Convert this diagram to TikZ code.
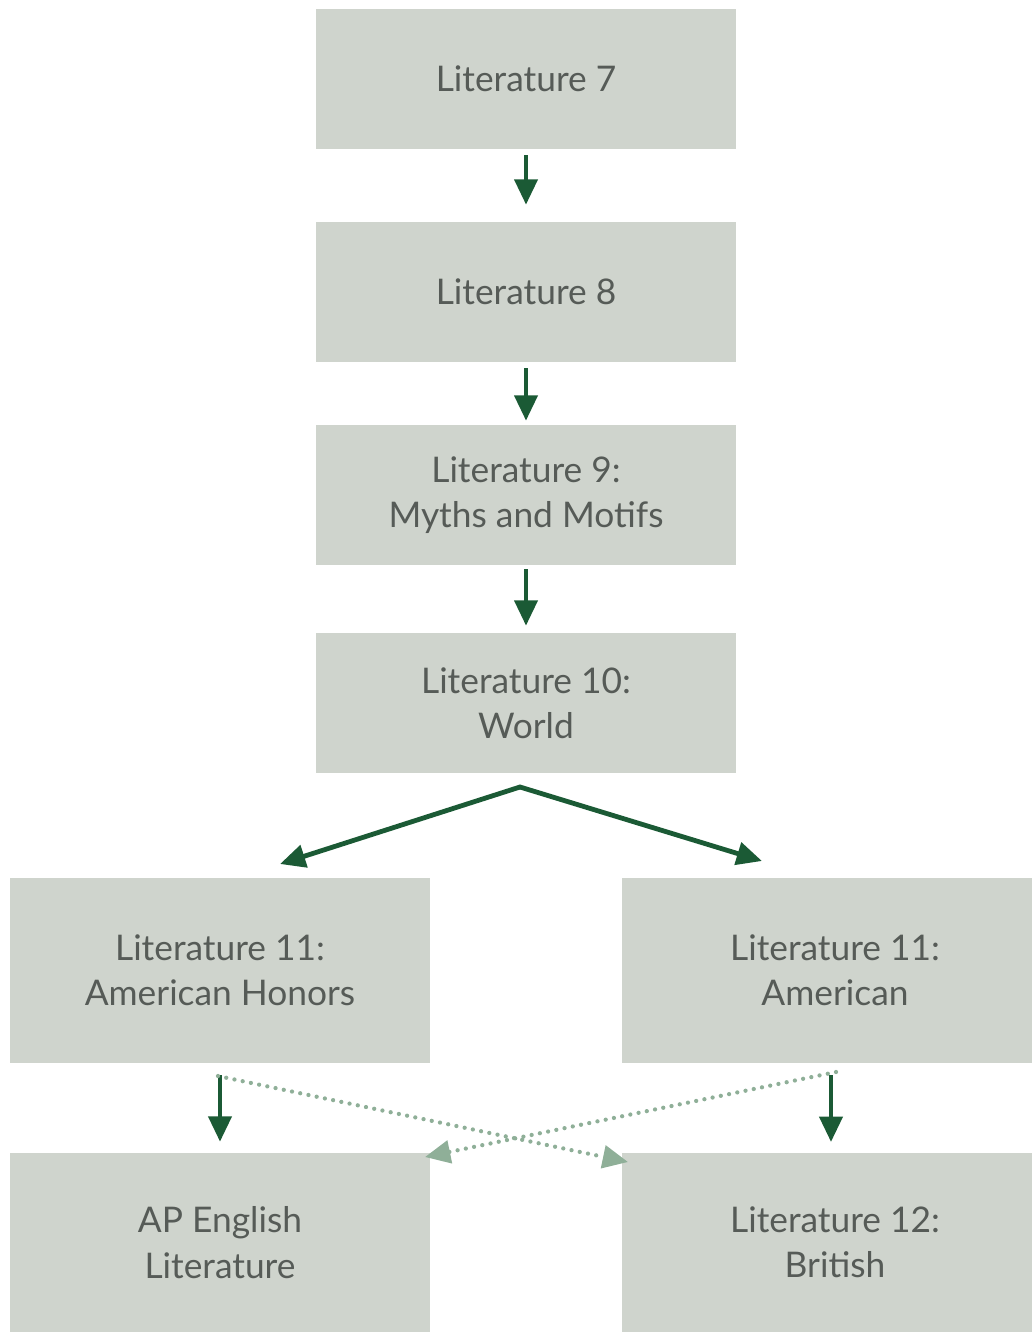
\documentclass[tikz,border=0pt]{standalone}
\usepackage{fontspec}
\setmainfont{Lato}
\usepackage{tikz}
\usetikzlibrary{arrows.meta,positioning}

\definecolor{boxgray}{HTML}{CFD4CD}
\definecolor{textgray}{HTML}{565B57}
\definecolor{darkgreen}{HTML}{1B5A35}
\definecolor{lightgreen}{HTML}{8FAF98}

\begin{document}
\begin{tikzpicture}[x=0.75pt, y=-0.75pt,
	course/.style={fill=boxgray, text=textgray, align=center, inner sep=0pt,
		font=\fontsize{26.5}{34}\selectfont},
	nextarrow/.style={draw=darkgreen, line width=3.6pt,
		-{Triangle[length=19pt, width=17pt]}},
	optarrow/.style={draw=lightgreen, line width=3.2pt, line cap=round,
		dash pattern=on 0pt off 6.3pt,
		-{Triangle[length=19pt, width=17pt, fill=lightgreen]}}]
	\useasboundingbox (0,0) rectangle (1032,1332);
	% course boxes
	\node[course, minimum width=315pt, minimum height=105pt] (lit7) at (526,79) {Literature 7};
	\node[course, minimum width=315pt, minimum height=105pt] (lit8) at (526,292) {Literature 8};
	\node[course, minimum width=315pt, minimum height=105pt] (lit9) at (526,495) {Literature 9:\\Myths and Motifs};
	\node[course, minimum width=315pt, minimum height=105pt] (lit10) at (526,703) {Literature 10:\\World};
	\node[course, minimum width=315pt, minimum height=138.75pt] (litAmH) at (220,970.5) {Literature 11:\\American Honors};
	\node[course, minimum width=319.5pt, minimum height=138.75pt] (litAm) at (835,970.5) {Literature 11:\\American};
	\node[course, minimum width=315pt, minimum height=134.25pt] (apEng) at (220,1242.5) {AP English\\Literature};
	\node[course, minimum width=319.5pt, minimum height=134.25pt] (lit12) at (835,1242.5) {Literature 12:\\British};
	% split and crossing points
	\coordinate (split) at (520,787);
	\coordinate (toAmH) at (280,864);
	\coordinate (toAm) at (762,861);
	\coordinate (fromAmH) at (218,1076);
	\coordinate (fromAm) at (836,1072);
	\coordinate (toLit12) at (628,1162);
	\coordinate (toAP) at (425,1157);
	\coordinate (amDown) at (831,1075);
	\coordinate (toBrit) at (831,1142);
	% arrows
	\draw[nextarrow, shorten <=4.5pt, shorten >=12.75pt] (lit7) -- (lit8);
	\draw[nextarrow, shorten <=4.5pt, shorten >=3pt] (lit8) -- (lit9);
	\draw[nextarrow, shorten <=3pt, shorten >=5.25pt] (lit9) -- (lit10);
	\draw[nextarrow, line cap=round] (split) -- (toAmH);
	\draw[nextarrow, line cap=round] (split) -- (toAm);
	\draw[nextarrow, shorten <=9pt, shorten >=8.25pt] (litAmH) -- (apEng);
	\draw[nextarrow] (amDown) -- (toBrit);
	\draw[optarrow] (fromAmH) -- (toLit12);
	\draw[optarrow] (fromAm) -- (toAP);
\end{tikzpicture}
\end{document}
